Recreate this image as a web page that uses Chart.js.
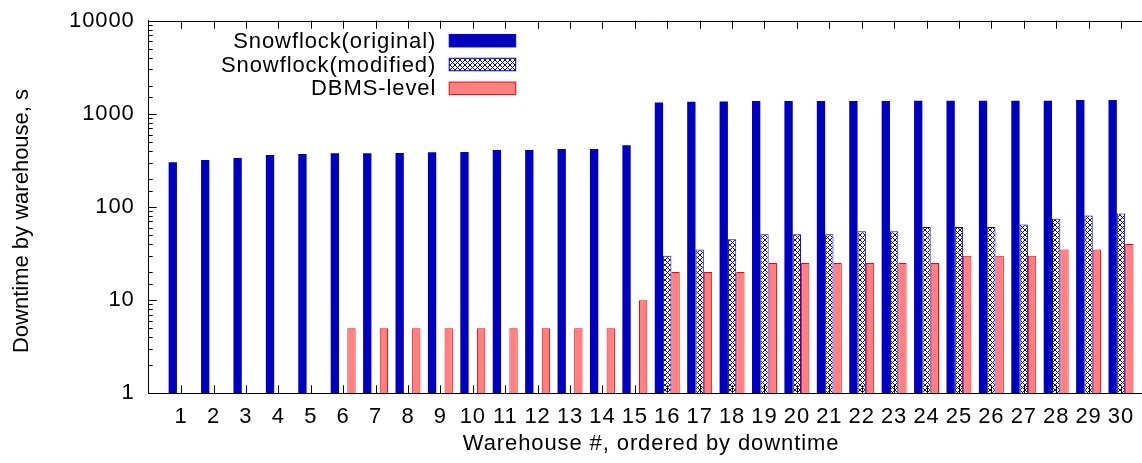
<!DOCTYPE html>
<html>
<head>
<meta charset="utf-8">
<script src="https://cdn.jsdelivr.net/npm/chart.js@4.4.1/dist/chart.umd.min.js"></script>
<style>
  html, body { margin: 0; padding: 0; background: #fff; overflow: hidden; }
  #wrap { position: absolute; left: 0; top: 0; width: 1160px; height: 463px; }
</style>
</head>
<body>
<div id="wrap"><canvas id="c"></canvas></div>
<script>
// ---- data ----
const warehouses = ['1','2','3','4','5','6','7','8','9','10','11','12','13','14','15',
                    '16','17','18','19','20','21','22','23','24','25','26','27','28','29','30'];
const snowflockOriginal = [302, 320, 336, 362, 371, 377, 377, 380, 386, 390, 409, 409, 420, 420, 459,
                           1320, 1350, 1360, 1375, 1375, 1375, 1375, 1375, 1385, 1385, 1385, 1385, 1385, 1410, 1410];
const snowflockModified = [null, null, null, null, null, null, null, null, null, null, null, null, null, null, null,
                           30, 35, 45, 51, 51, 51, 55, 55, 61, 61, 61, 65, 75, 81, 85];
const dbmsLevel = [null, null, null, null, null, 5, 5, 5, 5, 5, 5, 5, 5, 5, 10,
                   20, 20, 20, 25, 25, 25, 25, 25, 25, 30, 30, 30, 35, 35, 40];
const seriesNames = ['Snowflock(original)', 'Snowflock(modified)', 'DBMS-level'];
const yTickValues = [1, 10, 100, 1000, 10000];
const xTitle = 'Warehouse #, ordered by downtime';
const yTitle = 'Downtime by warehouse, s';

// ---- styling helpers ----
const FONT = "'Liberation Sans', Arial, Helvetica, sans-serif";
const FS = 22;
const SPACING = '0.9px';
const BLUE = '#0000c0';

function makeHatch() {
  const n = 5;
  const c = document.createElement('canvas');
  c.width = n; c.height = n;
  const g = c.getContext('2d');
  g.fillStyle = '#ffffff';
  g.fillRect(0, 0, n, n);
  g.fillStyle = BLUE;
  for (let i = 0; i < n; i++) {
    g.fillRect(i, i, 1, 1);
    g.fillRect(n - 1 - i, i, 1, 1);
  }
  return g.createPattern(c, 'repeat');
}
const hatch = makeHatch();

// pad one empty category at each end so category 1 sits one step from the left axis
const labels = [''].concat(warehouses, ['']);
const pad = arr => [null].concat(arr, [null]);

const spacingPlugin = {
  id: 'spacing',
  beforeUpdate(chart) { chart.ctx.letterSpacing = SPACING; },
  beforeDraw(chart) { chart.ctx.letterSpacing = SPACING; }
};

const framePlugin = {
  id: 'frame',
  afterDraw(chart) {
    const {ctx, chartArea: a, scales: {x, y}} = chart;
    ctx.save();
    ctx.strokeStyle = '#000';
    ctx.lineWidth = 1;
    // top border
    ctx.beginPath();
    ctx.moveTo(a.left, Math.round(a.top) + 0.5);
    ctx.lineTo(a.right, Math.round(a.top) + 0.5);
    ctx.stroke();
    // x ticks (inward, bottom and top)
    ctx.beginPath();
    for (let i = 1; i <= warehouses.length; i++) {
      const px = Math.round(x.getPixelForValue(i)) + 0.5;
      ctx.moveTo(px, a.bottom); ctx.lineTo(px, a.bottom - 8);
      ctx.moveTo(px, a.top); ctx.lineTo(px, a.top + 8);
    }
    // y ticks (inward)
    y.ticks.forEach(t => {
      const v = t.value;
      const lg = Math.log10(v);
      const major = Math.abs(lg - Math.round(lg)) < 1e-9;
      const py = Math.round(y.getPixelForValue(v)) + 0.5;
      const len = major ? 8 : 4;
      ctx.moveTo(a.left, py); ctx.lineTo(a.left + len, py);
      ctx.moveTo(a.right, py); ctx.lineTo(a.right - len, py);
    });
    ctx.stroke();

    ctx.font = FS + 'px ' + FONT;
    ctx.fillStyle = '#000';

    // y axis title (rotated)
    ctx.save();
    ctx.letterSpacing = '0px';
    ctx.translate(22, (a.top + a.bottom) / 2 + 14);
    ctx.rotate(-Math.PI / 2);
    ctx.textAlign = 'center';
    ctx.textBaseline = 'middle';
    ctx.fillText(yTitle, 0, 0);
    ctx.restore();

    // legend (text right-aligned, sample box to the right)
    ctx.letterSpacing = SPACING;
    ctx.textAlign = 'right';
    ctx.textBaseline = 'middle';
    chart.data.datasets.forEach((ds, i) => {
      const cy = a.top + 20 + i * 23.8;
      ctx.fillStyle = '#000';
      ctx.fillText(ds.label, a.left + 287.5, cy + 1);
      const bx = a.left + 300.5, bw = 66.5, bh = 12.5;
      ctx.fillStyle = ds.backgroundColor;
      ctx.fillRect(bx, cy - bh / 2, bw, bh);
      ctx.strokeStyle = ds.borderColor;
      ctx.lineWidth = 1;
      ctx.strokeRect(bx, cy - bh / 2, bw, bh);
    });
    ctx.restore();
  }
};

new Chart(document.getElementById('c'), {
  type: 'bar',
  data: {
    labels: labels,
    datasets: [
      { label: seriesNames[0], data: pad(snowflockOriginal), backgroundColor: BLUE, borderColor: BLUE, borderWidth: 0 },
      { label: seriesNames[1], data: pad(snowflockModified), backgroundColor: hatch, borderColor: BLUE, borderWidth: 1 },
      { label: seriesNames[2], data: pad(dbmsLevel), backgroundColor: '#ff8080', borderColor: '#ff0000', borderWidth: 1 }
    ]
  },
  options: {
    responsive: true,
    maintainAspectRatio: false,
    animation: false,
    devicePixelRatio: 1,
    layout: { padding: { top: 20.7, left: 0, right: 6.6, bottom: 0 } },
    datasets: { bar: { categoryPercentage: 0.77, barPercentage: 1.0 } },
    plugins: { legend: { display: false }, tooltip: { enabled: false } },
    scales: {
      x: {
        offset: false,
        grid: { display: false, drawTicks: false },
        border: { display: true, color: '#000', width: 1 },
        ticks: { color: '#000', font: { family: FONT, size: FS }, padding: 10.5, autoSkip: false, maxRotation: 0 },
        title: { display: true, text: xTitle, color: '#000', font: { family: FONT, size: FS }, padding: { top: 0, bottom: 6 } },
        afterFit(s) { s.height = 463 - 393.3; s.paddingLeft = 0; s.paddingRight = 0; }
      },
      y: {
        type: 'logarithmic',
        min: yTickValues[0],
        max: yTickValues[yTickValues.length - 1],
        grid: { display: false, drawTicks: false },
        border: { display: true, color: '#000', width: 1 },
        ticks: {
          color: '#000', font: { family: FONT, size: FS }, padding: 14, autoSkip: false,
          callback: v => yTickValues.includes(v) ? String(v) : ''
        },
        title: { display: false, text: yTitle },
        afterFit(s) { s.width = 148.7; s.paddingTop = 0; s.paddingBottom = 0; }
      }
    }
  },
  plugins: [spacingPlugin, framePlugin]
});
</script>
</body>
</html>
